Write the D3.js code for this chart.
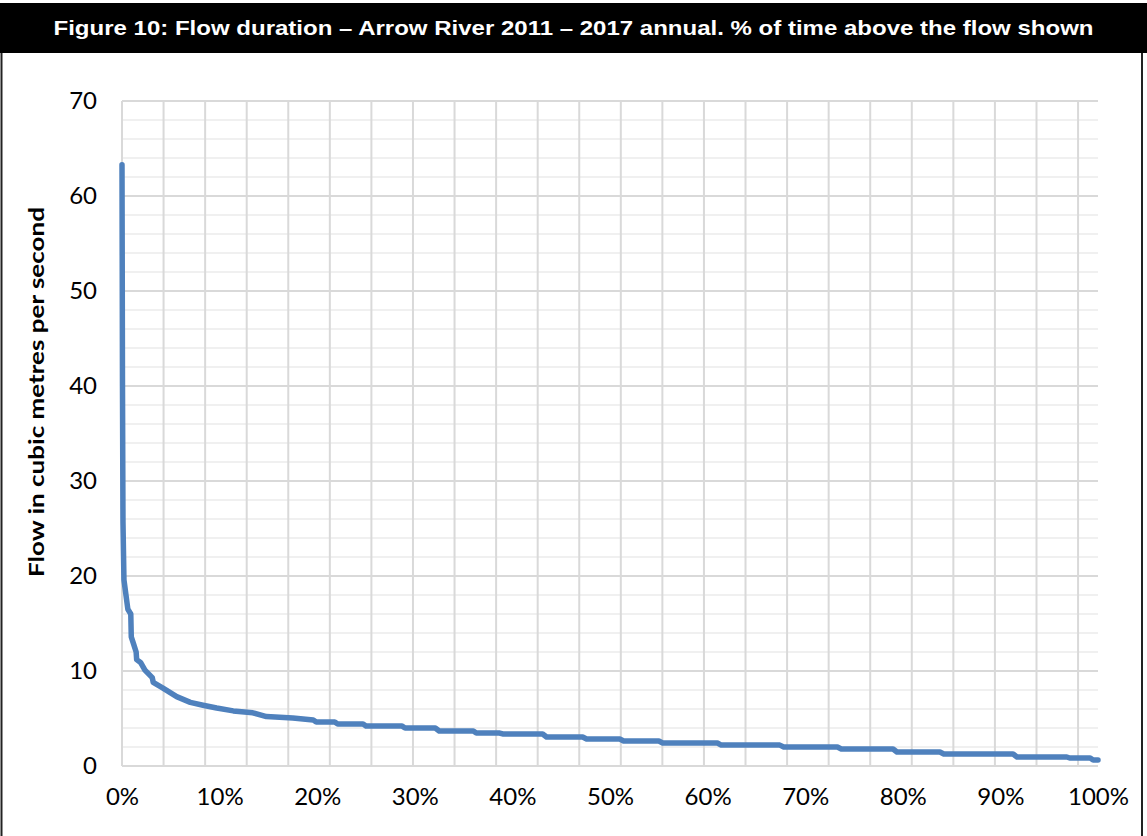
<!DOCTYPE html>
<html>
<head>
<meta charset="utf-8">
<script src="https://cdn.jsdelivr.net/npm/d3@7"></script>
<style>
  body { margin: 0; background: #fff; }
  svg { display: block; }
</style>
</head>
<body>
<div id="chart"></div>
<script>
// Flow duration curve
const exceedancePct = [
  0, 0.05, 0.1, 0.2, 0.6, 0.9, 0.95, 1.2, 1.45, 1.5, 1.9, 2.35, 3.1, 3.2, 4.2,
  5.6, 7.0, 8.3, 9.7, 11.4, 13.4, 14.8, 17.5, 19.6, 19.9, 21.8, 22.1, 24.7,
  25.0, 28.7, 29.0, 32.1, 32.5, 36.0, 36.3, 38.7, 39.0, 43.1, 43.5, 47.2, 47.6,
  51.0, 51.4, 55.0, 55.4, 61.0, 61.4, 67.4, 67.8, 73.3, 73.7, 79.0, 79.4, 83.8,
  84.2, 91.3, 91.7, 96.8, 97.1, 99.2, 99.5, 100
];
const flowCms = [
  63.3, 40, 25.7, 19.6, 16.5, 16.0, 13.6, 12.8, 12.0, 11.2, 10.9, 10.1, 9.3, 8.8, 8.2,
  7.3, 6.7, 6.4, 6.1, 5.8, 5.6, 5.2, 5.05, 4.84, 4.63, 4.63, 4.42, 4.42,
  4.2, 4.2, 4.0, 4.0, 3.68, 3.68, 3.47, 3.47, 3.37, 3.37, 3.05, 3.05, 2.84,
  2.84, 2.63, 2.63, 2.42, 2.42, 2.2, 2.2, 2.0, 2.0, 1.79, 1.79, 1.47, 1.47,
  1.26, 1.26, 0.95, 0.95, 0.84, 0.84, 0.63, 0.63
];
const yTicks = [0, 10, 20, 30, 40, 50, 60, 70];
const yMinorTicks = d3.range(0, 71, 2);
const xTickLabels = [0, 10, 20, 30, 40, 50, 60, 70, 80, 90, 100];
// vertical gridlines fall every 100 days of the record, not on the labels
const xGridStep = 4.259;

const titleText = "Figure 10: Flow duration \u2013 Arrow River 2011 \u2013 2017 annual. % of time above the flow shown";
const yTitle = "Flow in cubic metres per second";

const width = 1147, height = 836;
const plot = { left: 122, right: 1098, top: 101, bottom: 766 };

const svg = d3.select("#chart").append("svg").attr("width", width).attr("height", height);

// Title bar
svg.append("rect").attr("x", 0).attr("y", 3).attr("width", width).attr("height", 50).attr("fill", "#000");
svg.append("text")
  .attr("x", width / 2).attr("y", 35)
  .attr("text-anchor", "middle")
  .attr("fill", "#fff")
  .attr("font-family", "'Liberation Sans', Arial, sans-serif")
  .attr("font-weight", "bold")
  .attr("font-size", 21)
  .attr("textLength", 1040)
  .attr("lengthAdjust", "spacingAndGlyphs")
  .text(titleText);

// Frame sides
svg.append("line").attr("x1", 1.5).attr("x2", 1.5).attr("y1", 53).attr("y2", height).attr("stroke", "#222").attr("stroke-width", 2);
svg.append("line").attr("x1", 1142).attr("x2", 1142).attr("y1", 53).attr("y2", height).attr("stroke", "#222").attr("stroke-width", 2);

const x = d3.scaleLinear().domain([0, 100]).range([plot.left, plot.right]);
const y = d3.scaleLinear().domain([0, 70]).range([plot.bottom, plot.top]);

// Minor horizontal gridlines
svg.append("g").selectAll("line")
  .data(yMinorTicks.filter((d) => d % 10 !== 0))
  .join("line")
  .attr("x1", plot.left).attr("x2", plot.right)
  .attr("y1", (d) => y(d)).attr("y2", (d) => y(d))
  .attr("stroke", "#f0f0f0").attr("stroke-width", 2);

// Vertical gridlines
svg.append("g").selectAll("line")
  .data(d3.range(0, 24).map((i) => i * xGridStep))
  .join("line")
  .attr("x1", (d) => x(d)).attr("x2", (d) => x(d))
  .attr("y1", plot.top).attr("y2", plot.bottom)
  .attr("stroke", "#d9d9d9").attr("stroke-width", 2);

// Major horizontal gridlines
svg.append("g").selectAll("line")
  .data(yTicks)
  .join("line")
  .attr("x1", plot.left).attr("x2", plot.right)
  .attr("y1", (d) => y(d)).attr("y2", (d) => y(d))
  .attr("stroke", "#d9d9d9").attr("stroke-width", 2);

// Y axis labels
const yAxis = d3.axisLeft(y).tickValues(yTicks).tickSize(0).tickPadding(25);
const gy = svg.append("g").attr("transform", `translate(${plot.left},0)`).call(yAxis);
gy.select(".domain").remove();
gy.selectAll("text").attr("font-family", "Lato, 'Open Sans', sans-serif").attr("font-size", 24).attr("fill", "#000");

// X axis labels
const xAxis = d3.axisBottom(x).tickValues(xTickLabels).tickFormat((d) => d + "%").tickSize(0).tickPadding(22);
const gx = svg.append("g").attr("transform", `translate(0,${plot.bottom})`).call(xAxis);
gx.select(".domain").remove();
gx.selectAll("text").attr("font-family", "Lato, 'Open Sans', sans-serif").attr("font-size", 24).attr("fill", "#000");

// Y axis title
svg.append("text")
  .attr("transform", "translate(44,392) rotate(-90)")
  .attr("text-anchor", "middle")
  .attr("font-family", "Lato, 'Open Sans', sans-serif")
  .attr("font-weight", "bold")
  .attr("font-size", 21)
  .attr("textLength", 370)
  .attr("lengthAdjust", "spacingAndGlyphs")
  .text(yTitle);

// Flow duration line
const points = exceedancePct.map((p, i) => [p, flowCms[i]]);
const line = d3.line().x((d) => x(d[0])).y((d) => y(d[1]));
svg.append("path")
  .datum(points)
  .attr("d", line)
  .attr("fill", "none")
  .attr("stroke", "#4f81bd")
  .attr("stroke-width", 5.5)
  .attr("stroke-linejoin", "round")
  .attr("stroke-linecap", "round");
</script>
</body>
</html>
